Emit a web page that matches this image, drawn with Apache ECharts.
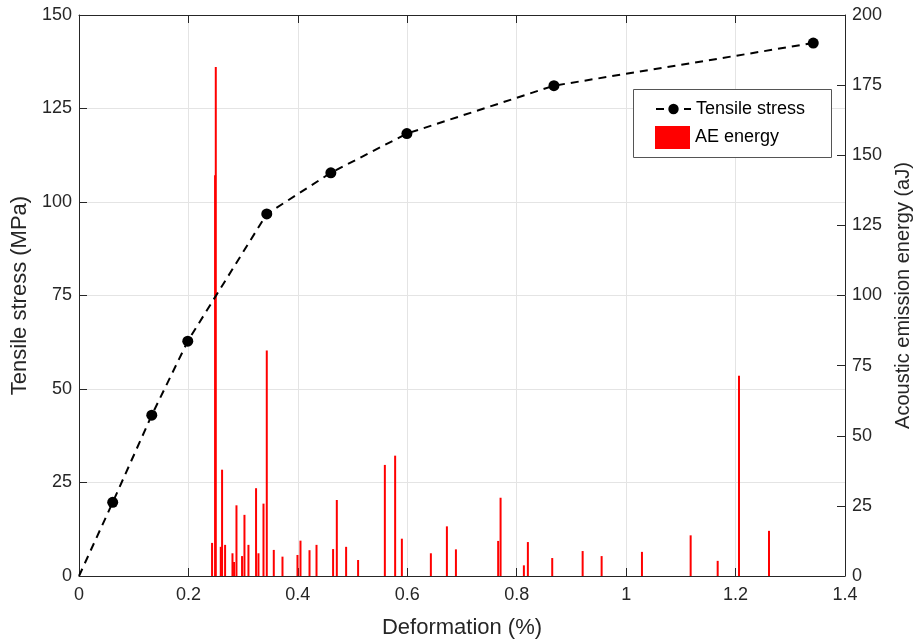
<!DOCTYPE html>
<html>
<head>
<meta charset="utf-8">
<script src="https://cdn.jsdelivr.net/npm/echarts@6/dist/echarts.min.js"></script>
<style>html,body{margin:0;padding:0;background:#fff}#c{width:918px;height:639px}</style>
</head>
<body>
<div id="c"></div>
<script>
// Tensile stress curve
const deformation = [0, 0.0616, 0.1330, 0.1988, 0.3432, 0.4603, 0.5993, 0.8680, 1.3420];
const tensileStress = [0, 19.7, 43.0, 62.8, 96.8, 107.8, 118.3, 131.1, 142.5];
// AE energy events
const aeDeformation = [0.2432,0.2487,0.2500,0.2591,0.2615,0.2670,0.2805,0.2834,0.2878,0.2980,0.3024,0.3097,0.3236,0.3280,0.3372,0.3432,0.3560,0.3719,0.3993,0.4048,0.4213,0.4341,0.4644,0.4712,0.4882,0.5101,0.5590,0.5778,0.5901,0.6431,0.6724,0.6889,0.7661,0.7705,0.8131,0.8204,0.8649,0.9205,0.9552,1.0289,1.1179,1.1673,1.2063,1.2611];
const aeEnergy = [11.8,142.9,181.5,10.4,37.9,11.1,8.1,5.0,25.2,7.1,21.8,11.1,31.3,8.1,25.8,80.4,9.3,6.9,7.5,12.6,9.2,11.1,9.6,27.1,10.4,5.7,39.6,42.9,13.3,8.1,17.7,9.5,12.5,27.9,3.8,12.1,6.4,8.9,7.1,8.6,14.5,5.4,71.4,16.1];
const xTicks = {min: 0, max: 1.4, interval: 0.2};
const leftTicks = {min: 0, max: 150, interval: 25};
const rightTicks = {min: 0, max: 200, interval: 25};

const FONT = 'Liberation Sans';
const TXT = '#262626';
const chart = echarts.init(document.getElementById('c'));
const lineData = deformation.map((d, i) => i === 0 ? {value: [d, tensileStress[i]], symbol: 'none'} : [d, tensileStress[i]]);
const barData = aeDeformation.map((d, i) => [d, aeEnergy[i]]);
const axisLine = {show: true, onZero: false, lineStyle: {color: '#262626', width: 1}};
const tick = {show: true, inside: true, length: 8, lineStyle: {color: '#262626'}};

chart.setOption({
  animation: false,
  textStyle: {fontFamily: FONT},
  grid: {left: 79, right: 73, top: 15, bottom: 63, containLabel: false, outerBoundsMode: 'none'},
  graphic: [{
    type: 'rect', z: 3,
    shape: {x: 633.5, y: 89.5, width: 198, height: 68},
    style: {fill: '#fff', stroke: '#555', lineWidth: 1}
  }],
  legend: [{
    data: ['Tensile stress'], left: 655, top: 100, padding: 0, z: 5,
    itemWidth: 35, itemHeight: 13, itemGap: 0,
    textStyle: {fontFamily: FONT, fontSize: 18, color: '#000'}
  }, {
    data: ['AE energy'], left: 655, top: 126, padding: 0, z: 5,
    itemWidth: 35, itemHeight: 23, itemGap: 0, icon: 'rect',
    textStyle: {fontFamily: FONT, fontSize: 18, color: '#000'}
  }],
  xAxis: [{
    type: 'value', position: 'bottom', ...xTicks,
    name: 'Deformation (%)', nameLocation: 'middle', nameGap: 41,
    nameTextStyle: {fontFamily: FONT, fontSize: 22, color: TXT},
    axisLine, axisTick: tick,
    axisLabel: {fontFamily: FONT, fontSize: 18, color: TXT, margin: 10},
    splitLine: {show: true, lineStyle: {color: '#e4e4e4'}}
  }, {
    type: 'value', position: 'top', ...xTicks,
    axisLine, axisTick: tick, axisLabel: {show: false}, splitLine: {show: false}
  }],
  yAxis: [{
    type: 'value', position: 'left', ...leftTicks,
    name: 'Tensile stress (MPa)', nameLocation: 'middle', nameGap: 43, nameRotate: 90,
    nameTextStyle: {fontFamily: FONT, fontSize: 22, color: TXT},
    axisLine, axisTick: tick,
    axisLabel: {fontFamily: FONT, fontSize: 18, color: TXT, margin: 7},
    splitLine: {show: true, lineStyle: {color: '#e4e4e4'}}
  }, {
    type: 'value', position: 'right', ...rightTicks,
    name: 'Acoustic emission energy (aJ)', nameLocation: 'middle', nameGap: 48, nameRotate: 90,
    nameTextStyle: {fontFamily: FONT, fontSize: 20, color: TXT},
    axisLine, axisTick: tick,
    axisLabel: {fontFamily: FONT, fontSize: 18, color: TXT, margin: 7},
    splitLine: {show: false}
  }],
  series: [{
    name: 'AE energy', type: 'bar', xAxisIndex: 0, yAxisIndex: 1,
    data: barData, barWidth: 2, itemStyle: {color: '#ff0000'}, z: 2
  }, {
    name: 'Tensile stress', type: 'line', xAxisIndex: 0, yAxisIndex: 0,
    data: lineData, symbol: 'circle', symbolSize: 11,
    lineStyle: {color: '#000', width: 2, type: [8, 6]},
    itemStyle: {color: '#000'}, z: 3
  }]
});
</script>
</body>
</html>
